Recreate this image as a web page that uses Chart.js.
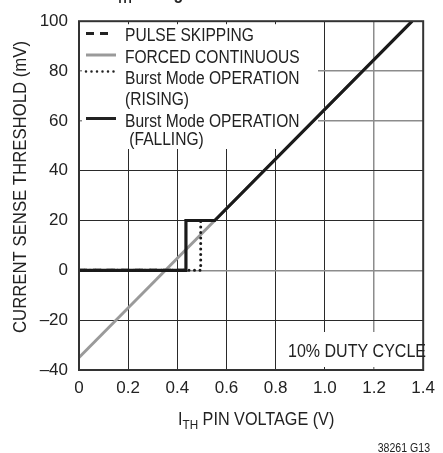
<!DOCTYPE html>
<html>
<head>
<meta charset="utf-8">
<script src="https://cdn.jsdelivr.net/npm/chart.js@4.4.1/dist/chart.umd.min.js"></script>
<style>
  html, body { margin: 0; padding: 0; background: #fff; }
  #wrap { width: 443px; height: 453px; position: relative; }
</style>
</head>
<body>
<div id="wrap"><canvas id="c" width="443" height="453"></canvas></div>
<script>
// ---- data (I_TH voltage in V, threshold in mV) ----
const pulseSkipX = [0, 0.435];
const pulseSkipY = [0, 0];
const forcedX = [0, 1.355];
const forcedY = [-35, 100];
const burstRisingX = [0, 0.495, 0.495, 0.552];
const burstRisingY = [0, 0, 20, 20];
const burstFallingX = [0, 0.435, 0.435, 0.552, 1.355];
const burstFallingY = [0, 0, 20, 20, 100];
const xTicks = [0, 0.2, 0.4, 0.6, 0.8, 1.0, 1.2, 1.4];
const yTicks = [-40, -20, 0, 20, 40, 60, 80, 100];
const legendLabels = ['PULSE SKIPPING', 'FORCED CONTINUOUS', 'Burst Mode OPERATION', '(RISING)', 'Burst Mode OPERATION', ' (FALLING)'];
const noteText = '10% DUTY CYCLE';
const figId = '38261 G13';

const FONT = "'Liberation Sans', Arial, sans-serif";
const pts = (xs, ys) => xs.map((x, i) => ({x: x, y: ys[i]}));

// draw horizontally condensed text; returns advance width
function ntext(ctx, t, x, y, font, align, sx) {
  ctx.save();
  ctx.font = font;
  const w = ctx.measureText(t).width * sx;
  let x0 = x;
  if (align === 'right') x0 = x - w;
  else if (align === 'center') x0 = x - w / 2;
  ctx.translate(x0, y);
  ctx.scale(sx, 1);
  ctx.textAlign = 'left';
  ctx.fillText(t, 0, 0);
  ctx.restore();
  return w;
}

const overlay = {
  id: 'overlay',
  beforeDatasetsDraw(chart) {
    const ctx = chart.ctx, a = chart.chartArea;
    ctx.save();
    ctx.fillStyle = '#fff';
    ctx.fillRect(a.left + 3, a.top + 3, 318 - a.left - 3, 149 - a.top - 3);
    ctx.fillRect(282, 332, a.right - 3 - 282, a.bottom - 3 - 332);
    ctx.restore();
  },
  afterDatasetsDraw(chart) {
    const ctx = chart.ctx, a = chart.chartArea;
    ctx.save();
    ctx.strokeStyle = '#333';
    ctx.lineWidth = 2;
    ctx.strokeRect(a.left, a.top, a.right - a.left, a.bottom - a.top);

    ctx.fillStyle = '#222';
    ctx.textBaseline = 'alphabetic';
    const base = [41, 62.5, 84, 105, 126.5, 145];
    legendLabels.forEach((t, i) => ntext(ctx, t, 125, base[i], '18px ' + FONT, 'left', 0.865));

    ctx.lineCap = 'butt';
    ctx.strokeStyle = '#222'; ctx.lineWidth = 3; ctx.setLineDash([8, 6]);
    ctx.beginPath(); ctx.moveTo(86, 33.5); ctx.lineTo(114, 33.5); ctx.stroke();
    ctx.setLineDash([]); ctx.strokeStyle = '#9a9a9a';
    ctx.beginPath(); ctx.moveTo(86, 55); ctx.lineTo(116, 55); ctx.stroke();
    ctx.strokeStyle = '#222'; ctx.lineWidth = 2.5; ctx.lineCap = 'round'; ctx.setLineDash([0, 5.5]);
    ctx.beginPath(); ctx.moveTo(86, 71.5); ctx.lineTo(116, 71.5); ctx.stroke();
    ctx.setLineDash([]); ctx.lineCap = 'butt'; ctx.lineWidth = 3;
    ctx.beginPath(); ctx.moveTo(86, 118.5); ctx.lineTo(116, 118.5); ctx.stroke();

    // note
    ntext(ctx, noteText, 426, 357, '18px ' + FONT, 'right', 0.89);

    // x axis title with subscript
    let x = 178;
    x += ntext(ctx, 'I', x, 425, '18px ' + FONT, 'left', 0.9);
    x += ntext(ctx, 'TH', x, 429, '13px ' + FONT, 'left', 0.9);
    ntext(ctx, ' PIN VOLTAGE (V)', x, 425, '18px ' + FONT, 'left', 0.9);

    // y axis title
    ctx.save();
    ctx.translate(26, 187);
    ctx.rotate(-Math.PI / 2);
    ntext(ctx, 'CURRENT SENSE THRESHOLD (mV)', 0, 0, '18px ' + FONT, 'center', 0.93);
    ctx.restore();

    // figure id
    ntext(ctx, figId, 430, 452, '12px ' + FONT, 'right', 0.88);

    // clipped title (bottom of its last line)
    let tx = 111;
    tx += ntext(ctx, 'I', tx, -3, 'bold 18px ' + FONT, 'left', 0.88) + 1;
    tx += ntext(ctx, 'TH', tx, 2.5, 'bold 13px ' + FONT, 'left', 0.88);
    ntext(ctx, ' Voltage', tx, -1.5, 'bold 18px ' + FONT, 'left', 0.88);
    ctx.restore();
  }
};

const isGrayX = v => Math.abs(v - 1.2) < 1e-6;
const isGrayY = v => (v === 0 || v === 80 || v === 60);

new Chart(document.getElementById('c'), {
  type: 'scatter',
  data: {
    datasets: [
      { label: 'Burst Mode OPERATION (RISING)', data: pts(burstRisingX, burstRisingY), showLine: true,
        borderColor: '#1a1a1a', borderWidth: 3, borderDash: [0, 5.5], borderCapStyle: 'round', pointRadius: 0, order: 0 },
      { label: 'Burst Mode OPERATION (FALLING)', data: pts(burstFallingX, burstFallingY), showLine: true,
        borderColor: '#1a1a1a', borderWidth: 3.2, pointRadius: 0, order: 1, borderJoinStyle: 'miter' },
      { label: 'FORCED CONTINUOUS', data: pts(forcedX, forcedY), showLine: true,
        borderColor: '#9a9a9a', borderWidth: 3, pointRadius: 0, order: 2 },
      { label: 'PULSE SKIPPING', data: pts(pulseSkipX, pulseSkipY), showLine: true,
        borderColor: '#1a1a1a', borderWidth: 3, borderDash: [8, 6], pointRadius: 0, order: 3 }
    ]
  },
  options: {
    responsive: false,
    animation: false,
    events: [],
    layout: { padding: { top: 20, right: 14, left: 0, bottom: 0 } },
    plugins: { legend: { display: false }, tooltip: { enabled: false }, title: { display: false } },
    scales: {
      x: {
        type: 'linear', min: 0, max: 1.4,
        afterBuildTicks: s => { s.ticks = xTicks.map(v => ({value: v})); },
        afterFit: s => { s.height = 83; },
        grid: { drawTicks: false,
          color: c => (c.tick && isGrayX(c.tick.value) ? '#8c8c8c' : '#2a2a2a'),
          lineWidth: c => (c.tick && isGrayX(c.tick.value) ? 1.5 : 1) },
        border: { display: false },
        ticks: { padding: 8, color: '#222', font: { family: FONT, size: 17 },
          callback: v => (v === 0 ? '0' : Number(v).toFixed(1)) }
      },
      y: {
        type: 'linear', min: -40, max: 100,
        afterBuildTicks: s => { s.ticks = yTicks.map(v => ({value: v})); },
        afterFit: s => { s.width = 79; },
        grid: { drawTicks: false,
          color: c => (c.tick && isGrayY(c.tick.value) ? '#8c8c8c' : '#2a2a2a'),
          lineWidth: c => (c.tick && isGrayY(c.tick.value) ? 1.5 : 1) },
        border: { display: false },
        ticks: { padding: 11, color: '#222', font: { family: FONT, size: 17 },
          callback: v => (v < 0 ? '\u2013' + Math.abs(v) : String(v)) }
      }
    }
  },
  plugins: [overlay]
});
</script>
</body>
</html>
